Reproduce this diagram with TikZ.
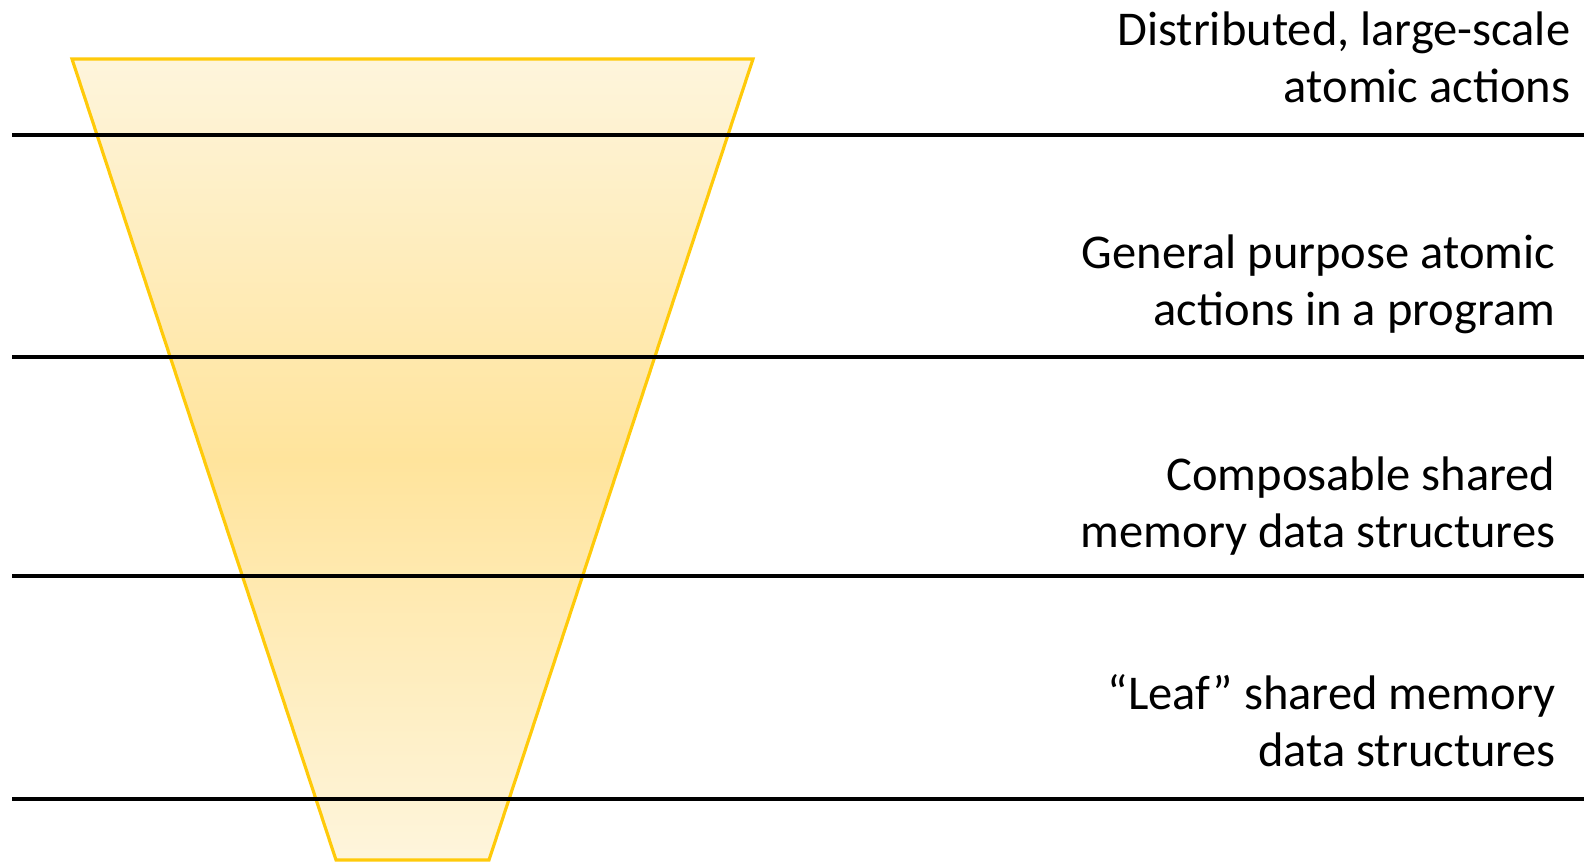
\documentclass[tikz,border=0pt]{standalone}
\usepackage{fontspec}
\setmainfont{Carlito}
\usetikzlibrary{positioning}

\definecolor{funnelEdge}{HTML}{FFCA0A}
\definecolor{funnelLight}{HTML}{FEF5DC}
\definecolor{funnelDeep}{HTML}{FFE49C}

\begin{document}
\begin{tikzpicture}[x=0.01cm,y=-0.01cm,every node/.style={font=\fontsize{13.8}{16.4}\selectfont,inner sep=0pt}]
  \useasboundingbox (0,0) rectangle (1584,862);
  \shade[top color=funnelLight,bottom color=funnelLight,middle color=funnelDeep]
    (72,59) -- (753,59) -- (489,860) -- (336,860) -- cycle;
  \draw[funnelEdge,line width=0.9pt,line join=miter]
    (72,59) -- (753,59) -- (489,860) -- (336,860) -- cycle;

  \draw[line width=1.15pt] (12,135) -- (1584,135);
  \draw[line width=1.15pt] (12,357) -- (1584,357);
  \draw[line width=1.15pt] (12,576) -- (1584,576);
  \draw[line width=1.15pt] (12,799) -- (1584,799);

  \node[align=right,anchor=base east] (lvlDist) at (1571,103) {Distributed, large-scale\\atomic actions};
  \node[align=right,anchor=base east] (lvlGen) at (1556,326) {General purpose atomic\\actions in a program};
  \node[align=right,anchor=base east] (lvlComp) at (1556,548) {Composable shared\\memory data structures};
  \node[align=right,anchor=base east] (lvlLeaf) at (1556,767) {“Leaf” shared memory\\data structures};
\end{tikzpicture}
\end{document}
